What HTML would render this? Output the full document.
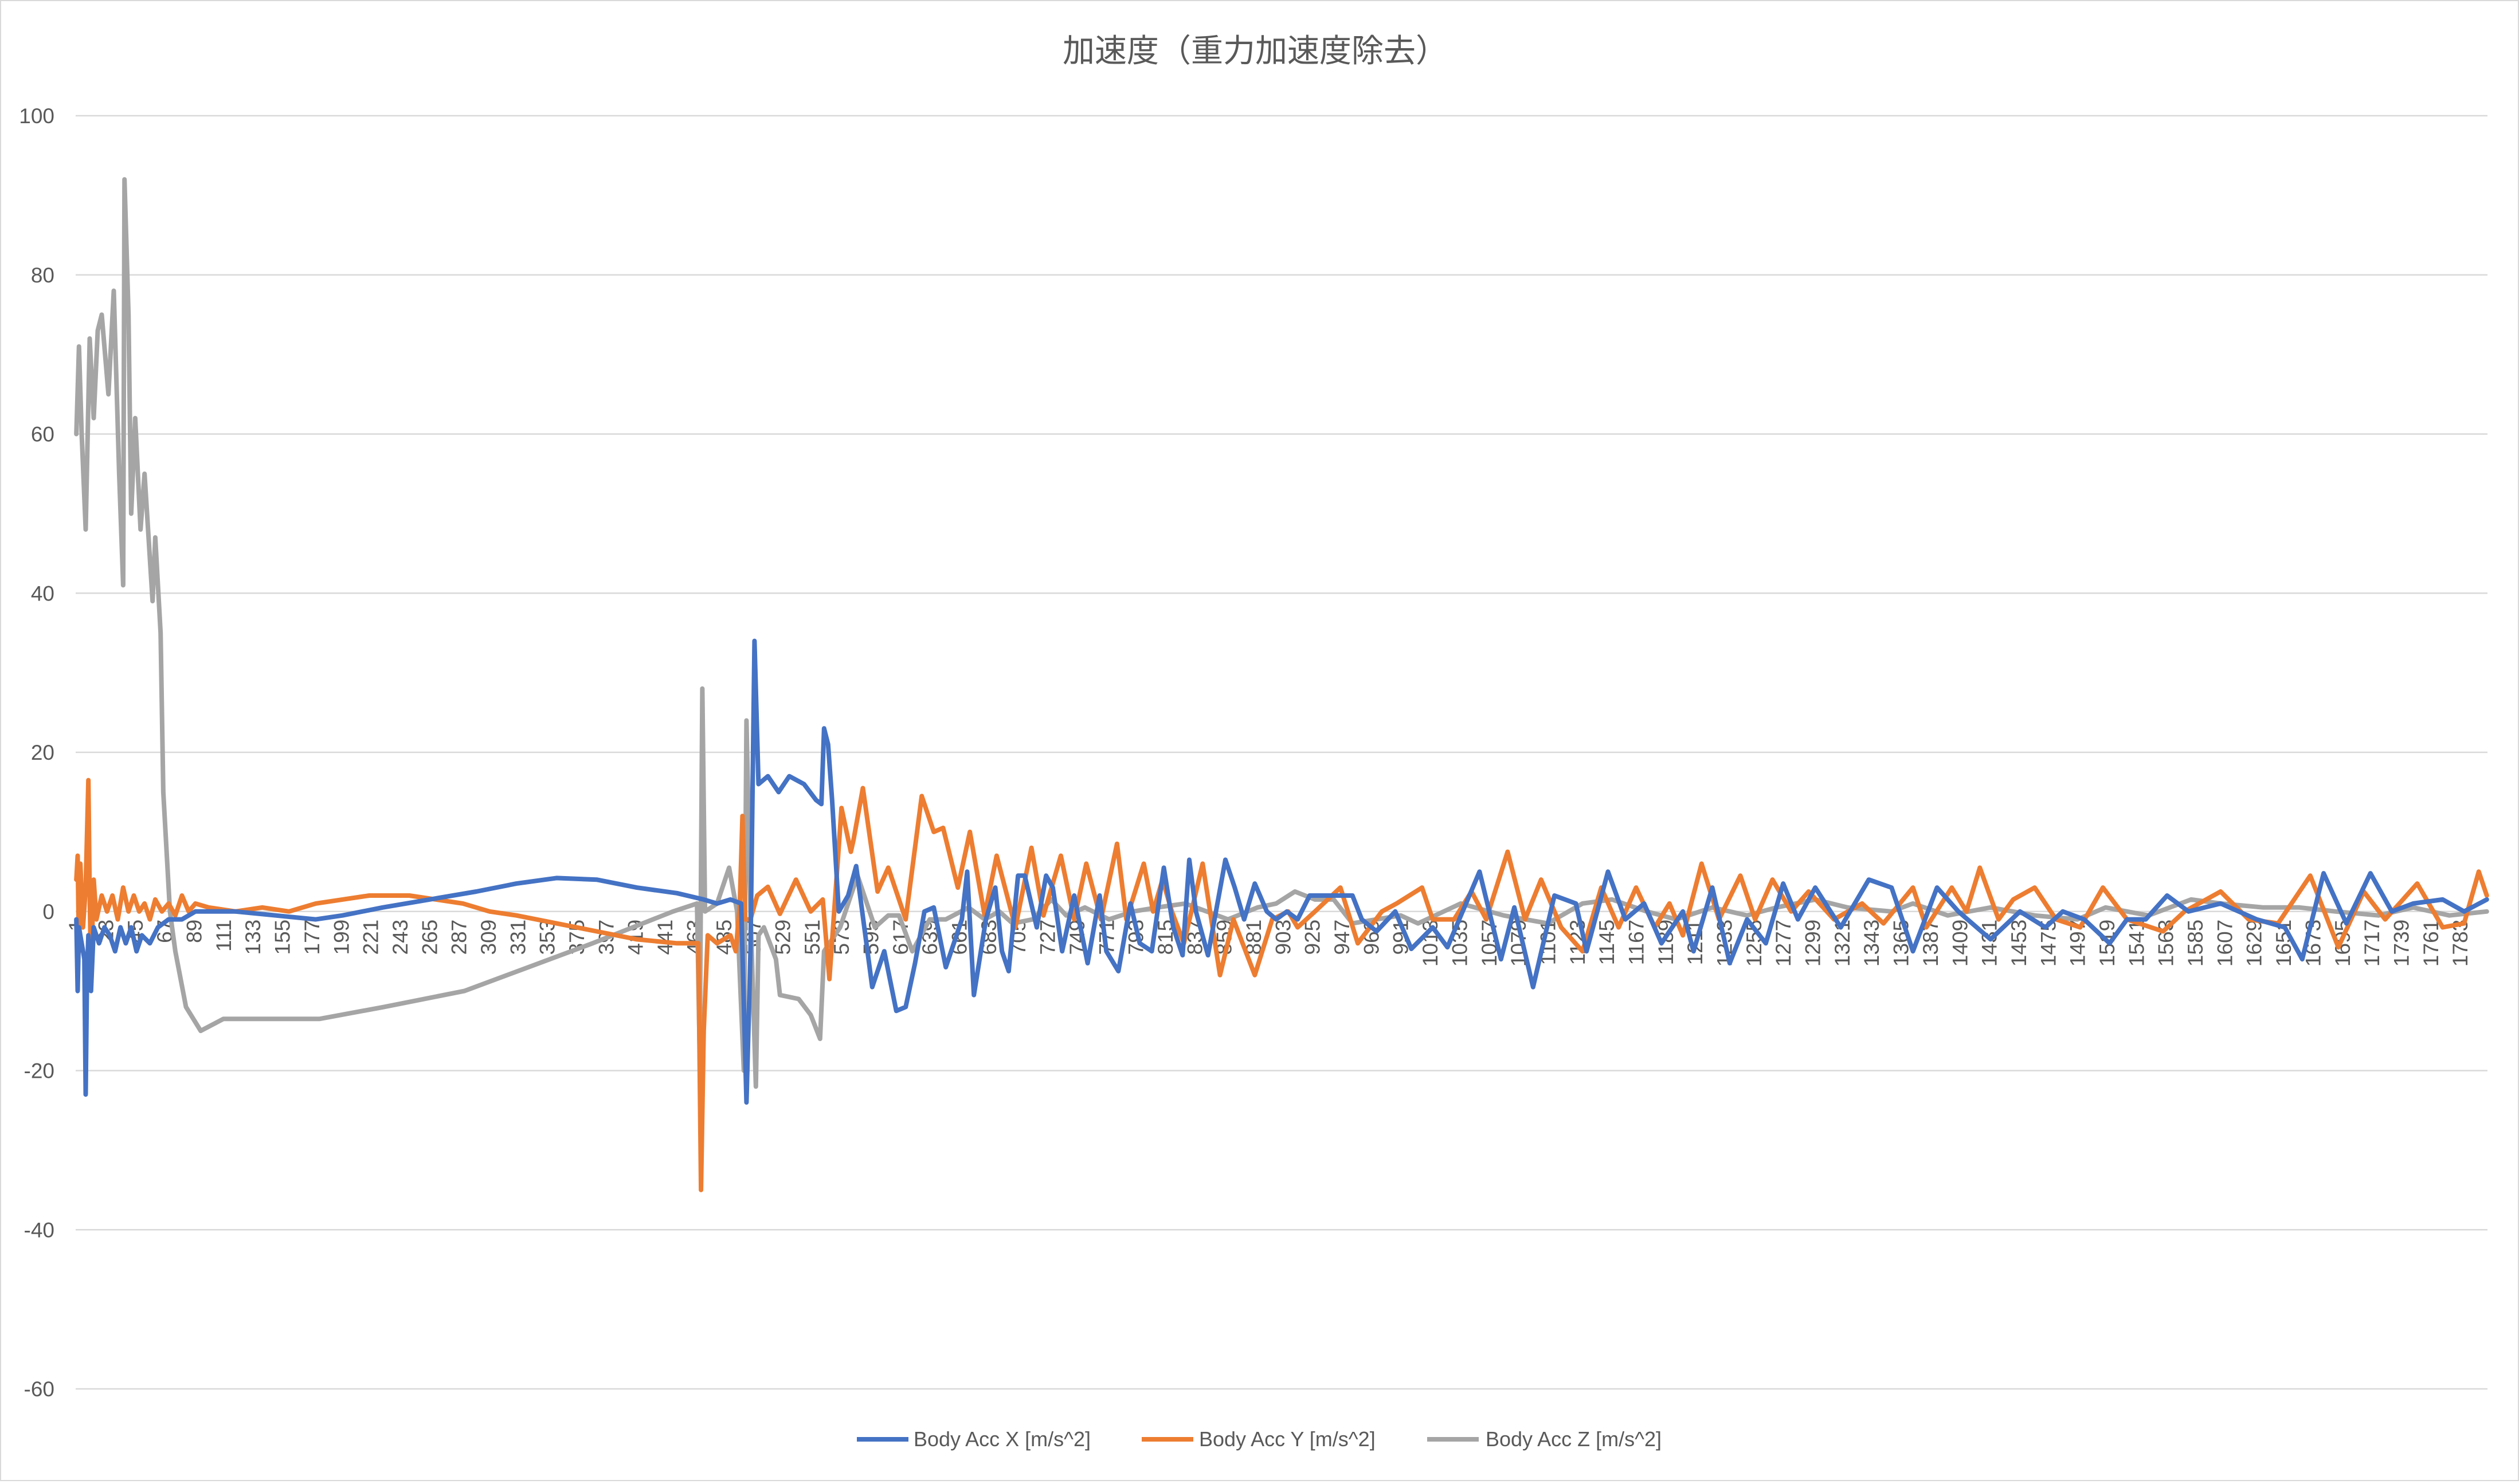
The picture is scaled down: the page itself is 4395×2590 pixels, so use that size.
<!DOCTYPE html>
<html><head><meta charset="utf-8">
<style>
html,body{margin:0;padding:0;background:#fff;}
body{width:4395px;height:2585px;overflow:hidden;font-family:"Liberation Sans","Noto Sans CJK JP",sans-serif;}
svg text{font-family:"Liberation Sans","Noto Sans CJK JP",sans-serif;}
</style></head>
<body>
<svg id="chart" width="4395" height="2585" viewBox="0 0 4395 2585" xmlns="http://www.w3.org/2000/svg">
<rect x="1" y="1" width="4393" height="2583" fill="#fff" stroke="#d9d9d9" stroke-width="2"/>
<text x="2190" y="108" text-anchor="middle" font-size="56" fill="#595959">加速度（重力加速度除去）</text>
<g id="grid"></g>
<g id="yticks"></g>
<g id="xticks"></g>
<g id="series"></g>
<g>
<g><line x1="1495" y1="2512" x2="1585" y2="2512" stroke="#4472C4" stroke-width="8"/><text x="1594" y="2524" font-size="36" fill="#595959">Body Acc X [m/s^2]</text></g>
<g><line x1="1992" y1="2512" x2="2082" y2="2512" stroke="#ED7D31" stroke-width="8"/><text x="2092" y="2524" font-size="36" fill="#595959">Body Acc Y [m/s^2]</text></g>
<g><line x1="2490" y1="2512" x2="2580" y2="2512" stroke="#A5A5A5" stroke-width="8"/><text x="2592" y="2524" font-size="36" fill="#595959">Body Acc Z [m/s^2]</text></g>
</g>
</svg>
<script>
const categoryCount = 1803;
const yTickValues = [100, 80, 60, 40, 20, 0, -20, -40, -60];
const xTickStep = 22;

const xCats = [1,2,3,5,7,8,9,10,12,14,18,22,26,30,34,38,42,46,50,56,62,70,80,90,100,120,150,180,200,230,265,300,330,360,390,420,450,470,480,490,498,502,505,508,511,518,526,534,545,554,558,560,563,566,571,578,584,596,605,614,621,628,635,642,651,663,667,672,681,688,693,698,705,710,719,726,731,738,747,757,766,771,780,789,796,805,814,821,828,833,838,847,860,867,874,882,891,898,906,914,923,938,955,962,973,987,999,1015,1026,1050,1066,1076,1090,1106,1122,1130,1146,1159,1173,1186,1202,1210,1224,1237,1250,1264,1277,1288,1301,1320,1341,1358,1374,1392,1408,1432,1454,1473,1486,1502,1521,1534,1548,1564,1580,1604,1631,1652,1665,1681,1698,1716,1732,1748,1770,1786,1803];
const xVals = [-1,-10,-2,-4,-6,-23,-8,-3,-10,-2,-4,-2,-3,-5,-2,-4,-2,-5,-3,-4,-2,-1,-1,0,0,0,-0.5,-1,-0.5,0.5,1.5,2.5,3.5,4.2,4,3,2.3,1.5,1,1.5,1,-24,-5,34,16,17,15,17,16,14,13.5,23,21,14,0,2,5.7,-9.5,-5,-12.5,-12,-6.5,0,0.5,-7,-1,5,-10.5,-1,3,-5,-7.5,4.5,4.5,-2,4.5,3,-5,2,-6.5,2,-5,-7.5,1,-4,-5,5.5,-2,-5.5,6.5,0,-5.5,6.5,3,-1,3.5,0,-1,0,-1,2,2,2,-1,-2.5,0,-4.7,-2,-4.5,5,-6,0.5,-9.5,2,1,-5,5,-1,1,-4,0,-5,3,-6.5,-1,-4,3.5,-1,3,-2,4,3,-5,3,0,-3.5,0,-2,0,-1,-4,-1,-1,2,0,1,-1,-2,-6,4.8,-1.5,4.8,0,1,1.5,0,1.5];

const yCats = [1,2,3,4,6,8,10,11,12,14,16,20,24,28,32,36,40,44,48,52,56,60,65,70,75,80,85,90,100,120,140,160,180,200,220,250,270,290,310,330,360,390,420,450,466,468,470,473,480,490,494,497,499,501,505,510,518,527,539,550,559,564,573,580,582,589,600,608,621,633,642,649,660,669,680,689,703,715,724,737,747,756,767,779,786,799,806,813,820,829,843,856,866,882,895,907,914,927,946,959,977,988,1007,1015,1031,1044,1055,1071,1084,1096,1111,1127,1141,1154,1167,1181,1192,1202,1216,1229,1245,1256,1269,1283,1296,1315,1336,1352,1374,1384,1403,1414,1424,1438,1449,1465,1481,1499,1516,1534,1561,1577,1604,1625,1647,1671,1692,1711,1727,1751,1770,1786,1797,1803];
const yVals = [4,7,-5,6,-2,3,16.5,2,-8,4,-1,2,0,2,-1,3,0,2,0,1,-1,1.5,0,1,-0.5,2,0,1,0.5,0,0.5,0,1,1.5,2,2,1.5,1,0,-0.5,-1.5,-2.5,-3.5,-4,-4,-35,-15,-3,-4,-3,-5,1,12,-1,-1,2,3.1,-0.3,4,0,1.5,-8.5,13,7.5,9,15.5,2.5,5.5,-1,14.5,10,10.5,3,10,-0.5,7,-2,8,-0.5,7,-1,6,-1,8.5,-1,6,0,4,0,-4,6,-8,-1,-8,-1,0,-2,0,3,-4,0,1,3,-1,-1,2.5,-1,7.5,-1,4,-2,-5,3,-2,3,-2,1,-3,6,-1,4.5,-1,4,0,2.5,-1,1,-1.5,3,-2,3,0,5.5,-1,1.5,3,-1,-2,3,-1,-2.5,0,2.5,-1,-1.5,4.5,-4.5,2.5,-1,3.5,-2,-1.5,5,2];

const zCats = [1,3,5,8,11,14,17,20,25,29,33,36,37,40,42,45,49,52,58,60,64,66,71,75,83,94,111,140,183,231,291,339,387,447,465,467,469,471,480,489,495,500,502,505,509,511,515,524,527,541,550,557,560,572,585,598,608,616,626,639,651,668,680,691,701,716,730,741,755,773,791,809,830,862,884,898,912,927,941,955,973,991,1004,1036,1068,1101,1127,1149,1175,1197,1224,1250,1272,1301,1325,1358,1374,1400,1432,1465,1497,1518,1550,1582,1604,1636,1663,1690,1722,1748,1775,1803];
const zVals = [60,71,60,48,72,62,73,75,65,78,55,41,92,75,50,62,48,55,39,47,35,15,0,-5,-12,-15,-13.5,-13.5,-13.5,-12,-10,-7,-4,0,1,-18,28,0,1,5.5,0,-20,24,0,-22,-3,-2,-6,-10.5,-11,-13,-16,-5,-2,4.5,-2,-0.5,-0.5,-5,-1,-1,0.5,-1,0,-1.5,-1,1.5,-0.5,0.5,-1,0,0.5,1,-1,0.5,1,2.5,1.5,1.5,-1.5,-1,-0.5,-1.5,1,-0.5,-1.5,1,1.5,0,-1,0.5,-0.5,0.5,1.5,0.5,0,1,-0.5,0.5,-0.5,-1,0.5,-0.5,1.5,1,0.5,0.5,0,-0.5,0.5,-0.5,0];

const NS = 'http://www.w3.org/2000/svg';
const plotLeft = 132, plotRight = 4340, yTop = 202, yBottom = 2424, yMax = 100, yMin = -60;
function xScale(c){ return plotLeft + (c - 0.5) * (plotRight - plotLeft) / categoryCount; }
function yScale(v){ return yTop + (yMax - v) * (yBottom - yTop) / (yMax - yMin); }

const grid = document.getElementById('grid');
const yt = document.getElementById('yticks');
yTickValues.forEach(v => {
  const l = document.createElementNS(NS, 'line');
  l.setAttribute('x1', plotLeft); l.setAttribute('x2', plotRight);
  l.setAttribute('y1', yScale(v)); l.setAttribute('y2', yScale(v));
  l.setAttribute('stroke', '#d9d9d9'); l.setAttribute('stroke-width', '2.5');
  
  
  grid.appendChild(l);
  const t = document.createElementNS(NS, 'text');
  t.setAttribute('x', 95); t.setAttribute('y', yScale(v) + 13);
  t.setAttribute('text-anchor', 'end'); t.setAttribute('font-size', '37'); t.setAttribute('fill', '#595959');
  t.textContent = v;
  
  
  yt.appendChild(t);
});

const xt = document.getElementById('xticks');
for (let c = 1; c <= categoryCount; c += xTickStep) {
  const t = document.createElementNS(NS, 'text');
  const x = xScale(c) + 13, y = yScale(0) + 14;
  t.setAttribute('transform', `translate(${x},${y}) rotate(-90)`);
  t.setAttribute('text-anchor', 'end'); t.setAttribute('font-size', '37'); t.setAttribute('fill', '#595959');
  t.textContent = c;
  
  
  xt.appendChild(t);
}

const series = document.getElementById('series');
function drawLine(cats, vals, color, name){
  const p = document.createElementNS(NS, 'polyline');
  p.setAttribute('points', cats.map((c,i) => xScale(c).toFixed(1) + ',' + yScale(vals[i]).toFixed(1)).join(' '));
  p.setAttribute('fill', 'none'); p.setAttribute('stroke', color);
  p.setAttribute('stroke-width', '8'); p.setAttribute('stroke-linejoin', 'round'); p.setAttribute('stroke-linecap', 'round');
  
  
  series.appendChild(p);
}
drawLine(zCats, zVals, '#A5A5A5', 'series-body-acc-z');
drawLine(yCats, yVals, '#ED7D31', 'series-body-acc-y');
drawLine(xCats, xVals, '#4472C4', 'series-body-acc-x');
</script>
</body></html>
